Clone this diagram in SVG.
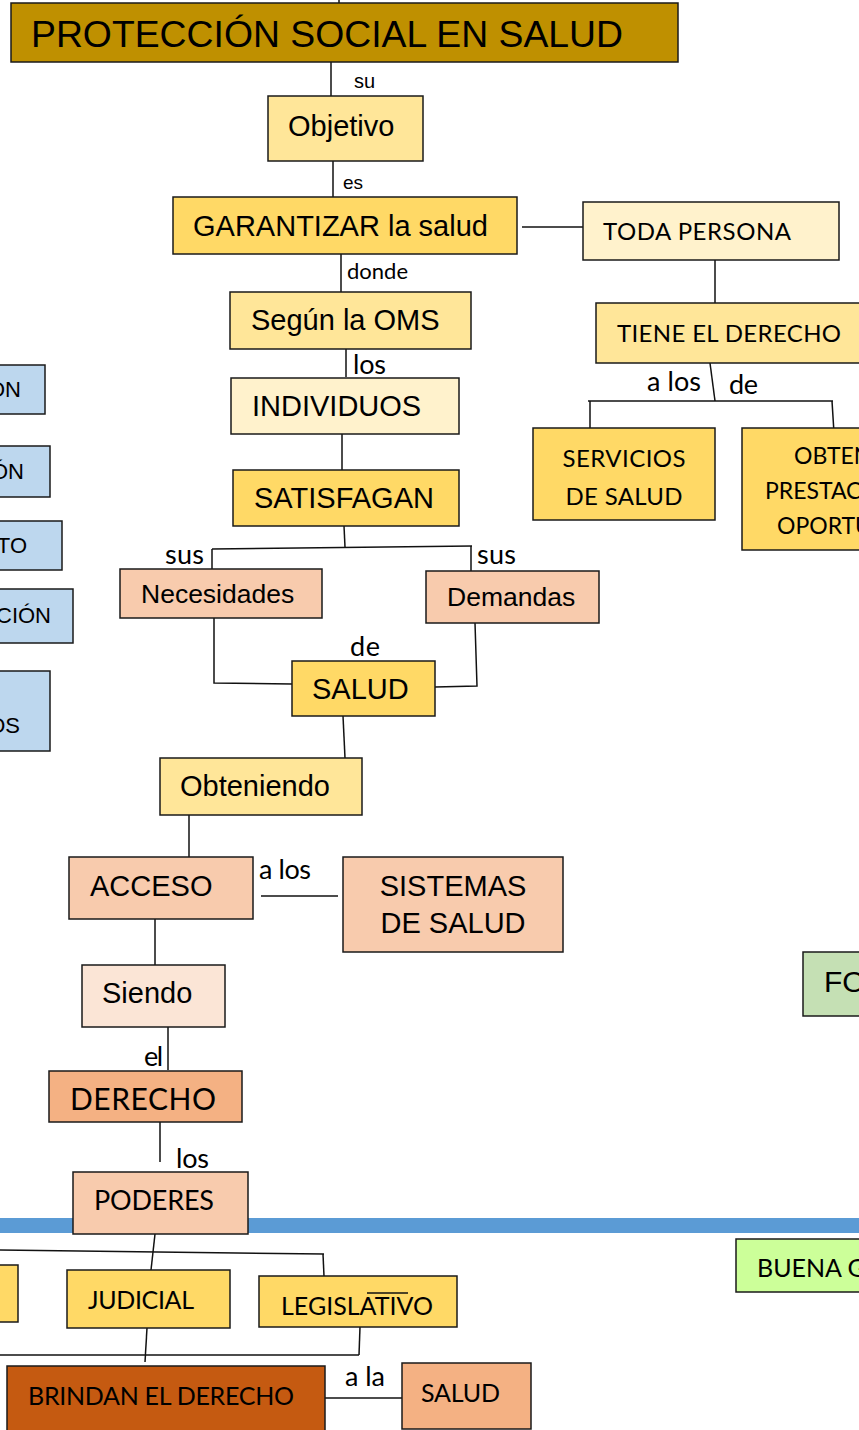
<svg xmlns="http://www.w3.org/2000/svg" width="859" height="1430" viewBox="0 0 859 1430">
<style>
.n rect{stroke:#1a1a1a;stroke-width:1.5}
.c line,.c polyline{stroke:#111;stroke-width:1.5;fill:none}
.a{font-family:"Liberation Sans",Arial,sans-serif;fill:#000}
.k{font-family:Lato,"Open Sans",sans-serif;fill:#000}
.lb{font-family:Lato,"Open Sans",sans-serif;fill:#000;font-size:27px}
.mid{text-anchor:middle}
.end{text-anchor:end}
</style>
<rect x="0" y="0" width="859" height="1430" fill="#fff"/>
<rect x="0" y="1218" width="859" height="15" fill="#5B9BD5"/>
<g class="c" id="connectors">
<line x1="339" y1="0" x2="339" y2="3"/>
<line x1="331" y1="62" x2="331" y2="96"/>
<line x1="333" y1="161" x2="333" y2="197"/>
<line x1="522" y1="227" x2="583" y2="227"/>
<line x1="715" y1="260" x2="715" y2="303"/>
<line x1="710" y1="363" x2="715" y2="401"/>
<line x1="588" y1="401" x2="833" y2="401"/>
<line x1="590" y1="401" x2="590" y2="428"/>
<line x1="832" y1="401" x2="834" y2="433"/>
<line x1="341" y1="254" x2="341" y2="292"/>
<line x1="346" y1="349" x2="346" y2="377"/>
<line x1="342" y1="434" x2="342" y2="470"/>
<line x1="344" y1="526" x2="345" y2="547"/>
<line x1="212" y1="549" x2="472" y2="546"/>
<line x1="212" y1="549" x2="212" y2="569"/>
<line x1="471" y1="546" x2="471" y2="571"/>
<polyline points="214,618 214,683 292,684"/>
<polyline points="475,623 477,686 435,687"/>
<line x1="343" y1="716" x2="345" y2="758"/>
<line x1="189" y1="815" x2="189" y2="857"/>
<line x1="261" y1="896" x2="338" y2="896"/>
<line x1="155" y1="919" x2="155" y2="965"/>
<line x1="168" y1="1027" x2="168" y2="1070"/>
<line x1="160" y1="1122" x2="160" y2="1162"/>
<line x1="155" y1="1234" x2="151" y2="1270"/>
<line x1="0" y1="1250" x2="324" y2="1254"/>
<line x1="323" y1="1254" x2="324" y2="1276"/>
<line x1="147" y1="1328" x2="145" y2="1362"/>
<line x1="360" y1="1327" x2="359" y2="1355"/>
<line x1="0" y1="1355" x2="359" y2="1355"/>
<line x1="325" y1="1398" x2="402" y2="1398"/>
</g>
<g id="labels">
<text class="a" x="354" y="88" font-size="20">su</text>
<text class="a" x="343" y="189" font-size="19">es</text>
<text class="k" x="347" y="279" font-size="22" textLength="61">donde</text>
<text class="lb" x="353" y="374" textLength="33">los</text>
<text class="lb" x="165" y="564" textLength="39">sus</text>
<text class="lb" x="477" y="564" textLength="39">sus</text>
<text class="lb" x="350" y="656" textLength="30">de</text>
<text class="lb" x="259" y="879" textLength="52">a los</text>
<text class="lb" x="144" y="1066" textLength="19">el</text>
<text class="lb" x="176" y="1168" textLength="33">los</text>
<text class="lb" x="647" y="391" textLength="54">a los</text>
<text class="lb" x="729" y="394" textLength="29">de</text>
<text class="lb" x="345" y="1386" textLength="40">a la</text>
</g>
<g class="n">
<g id="n-title"><rect x="11" y="3" width="667" height="59" fill="#BF9000"/><text class="a" x="31" y="47" font-size="37" textLength="592" lengthAdjust="spacingAndGlyphs">PROTECCIÓN SOCIAL EN SALUD</text></g>
<g id="n-objetivo"><rect x="268" y="96" width="155" height="65" fill="#FFE699"/><text class="a" x="288" y="136" font-size="29">Objetivo</text></g>
<g id="n-garantizar"><rect x="173" y="197" width="344" height="57" fill="#FFD966"/><text class="a" x="193" y="236" font-size="29">GARANTIZAR la salud</text></g>
<g id="n-toda"><rect x="583" y="202" width="256" height="58" fill="#FFF2CC"/><text class="k" x="603" y="240" font-size="24" textLength="188">TODA PERSONA</text></g>
<g id="n-tiene"><rect x="596" y="303" width="268" height="60" fill="#FFE699"/><text class="k" x="617" y="342" font-size="24" textLength="224">TIENE EL DERECHO</text></g>
<g id="n-servicios"><rect x="533" y="428" width="182" height="92" fill="#FFD966"/><text class="k mid" x="624" y="467" font-size="24" textLength="123">SERVICIOS</text><text class="k mid" x="624" y="505" font-size="24" textLength="117">DE SALUD</text></g>
<g id="n-obtener"><rect x="742" y="428" width="122" height="122" fill="#FFD966"/><text class="k" x="794" y="464" font-size="23">OBTEN</text><text class="k" x="765" y="499" font-size="23">PRESTAC</text><text class="k" x="777" y="534" font-size="23">OPORTU</text></g>
<g id="n-b1"><rect x="-5" y="365" width="50" height="49" fill="#BDD7EE"/><text class="a end" x="21" y="397" font-size="22">ON</text></g>
<g id="n-b2"><rect x="-5" y="446" width="55" height="51" fill="#BDD7EE"/><text class="a end" x="24" y="479" font-size="22">ÓN</text></g>
<g id="n-b3"><rect x="-5" y="521" width="67" height="49" fill="#BDD7EE"/><text class="a end" x="27" y="553" font-size="22">TO</text></g>
<g id="n-b4"><rect x="-5" y="589" width="78" height="54" fill="#BDD7EE"/><text class="a end" x="51" y="623" font-size="22">CIÓN</text></g>
<g id="n-b5"><rect x="-5" y="671" width="55" height="80" fill="#BDD7EE"/><text class="a end" x="20" y="733" font-size="22">OS</text></g>
<g id="n-segun"><rect x="230" y="292" width="241" height="57" fill="#FFE699"/><text class="a" x="251" y="330" font-size="29">Según la OMS</text></g>
<g id="n-individuos"><rect x="231" y="378" width="228" height="56" fill="#FFF2CC"/><text class="a" x="252" y="416" font-size="29">INDIVIDUOS</text></g>
<g id="n-satisfagan"><rect x="233" y="470" width="226" height="56" fill="#FFD966"/><text class="a" x="254" y="508" font-size="29">SATISFAGAN</text></g>
<g id="n-necesidades"><rect x="120" y="569" width="202" height="49" fill="#F8CBAD"/><text class="a" x="141" y="603" font-size="26.5">Necesidades</text></g>
<g id="n-demandas"><rect x="426" y="571" width="173" height="52" fill="#F8CBAD"/><text class="a" x="447" y="606" font-size="26.5">Demandas</text></g>
<g id="n-salud"><rect x="292" y="661" width="143" height="55" fill="#FFD966"/><text class="a" x="312" y="699" font-size="29">SALUD</text></g>
<g id="n-obteniendo"><rect x="160" y="758" width="202" height="57" fill="#FFE699"/><text class="a" x="180" y="796" font-size="29">Obteniendo</text></g>
<g id="n-acceso"><rect x="69" y="857" width="184" height="62" fill="#F8CBAD"/><text class="a" x="90" y="896" font-size="29">ACCESO</text></g>
<g id="n-sistemas"><rect x="343" y="857" width="220" height="95" fill="#F8CBAD"/><text class="a mid" x="453" y="896" font-size="29">SISTEMAS</text><text class="a mid" x="453" y="933" font-size="29">DE SALUD</text></g>
<g id="n-siendo"><rect x="82" y="965" width="143" height="62" fill="#FBE5D6"/><text class="a" x="102" y="1003" font-size="29">Siendo</text></g>
<g id="n-derecho"><rect x="49" y="1071" width="193" height="51" fill="#F4B183"/><text class="k" x="70" y="1110" font-size="30" textLength="146">DERECHO</text></g>
<g id="n-poderes"><rect x="73" y="1172" width="175" height="62" fill="#F8CBAD"/><text class="k" x="94" y="1210" font-size="27" textLength="120">PODERES</text></g>
<g id="n-fo"><rect x="803" y="952" width="60" height="64" fill="#C5E0B4"/><text class="a" x="824" y="992" font-size="30">FO</text></g>
<g id="n-buena"><rect x="736" y="1239" width="128" height="53" fill="#CCFF99"/><text class="k" x="757" y="1277" font-size="25">BUENA G</text></g>
<g id="n-ejecutivo"><rect x="-5" y="1265" width="23" height="57" fill="#FFD966"/></g>
<g id="n-judicial"><rect x="67" y="1270" width="163" height="58" fill="#FFD966"/><text class="k" x="88" y="1309" font-size="25" textLength="106">JUDICIAL</text></g>
<g id="n-legislativo"><rect x="259" y="1276" width="198" height="51" fill="#FFD966"/><text class="k" x="281" y="1315" font-size="25" textLength="152">LEGISLATIVO</text><line x1="367" y1="1293" x2="408" y2="1293" stroke="#111" stroke-width="1.5"/></g>
<g id="n-brindan"><rect x="7" y="1366" width="318" height="70" fill="#C55A11"/><text class="k" x="28" y="1405" font-size="25" textLength="266">BRINDAN EL DERECHO</text></g>
<g id="n-salud2"><rect x="402" y="1363" width="129" height="66" fill="#F4B183"/><text class="k" x="421" y="1402" font-size="25" textLength="79">SALUD</text></g>
</g>
</svg>
